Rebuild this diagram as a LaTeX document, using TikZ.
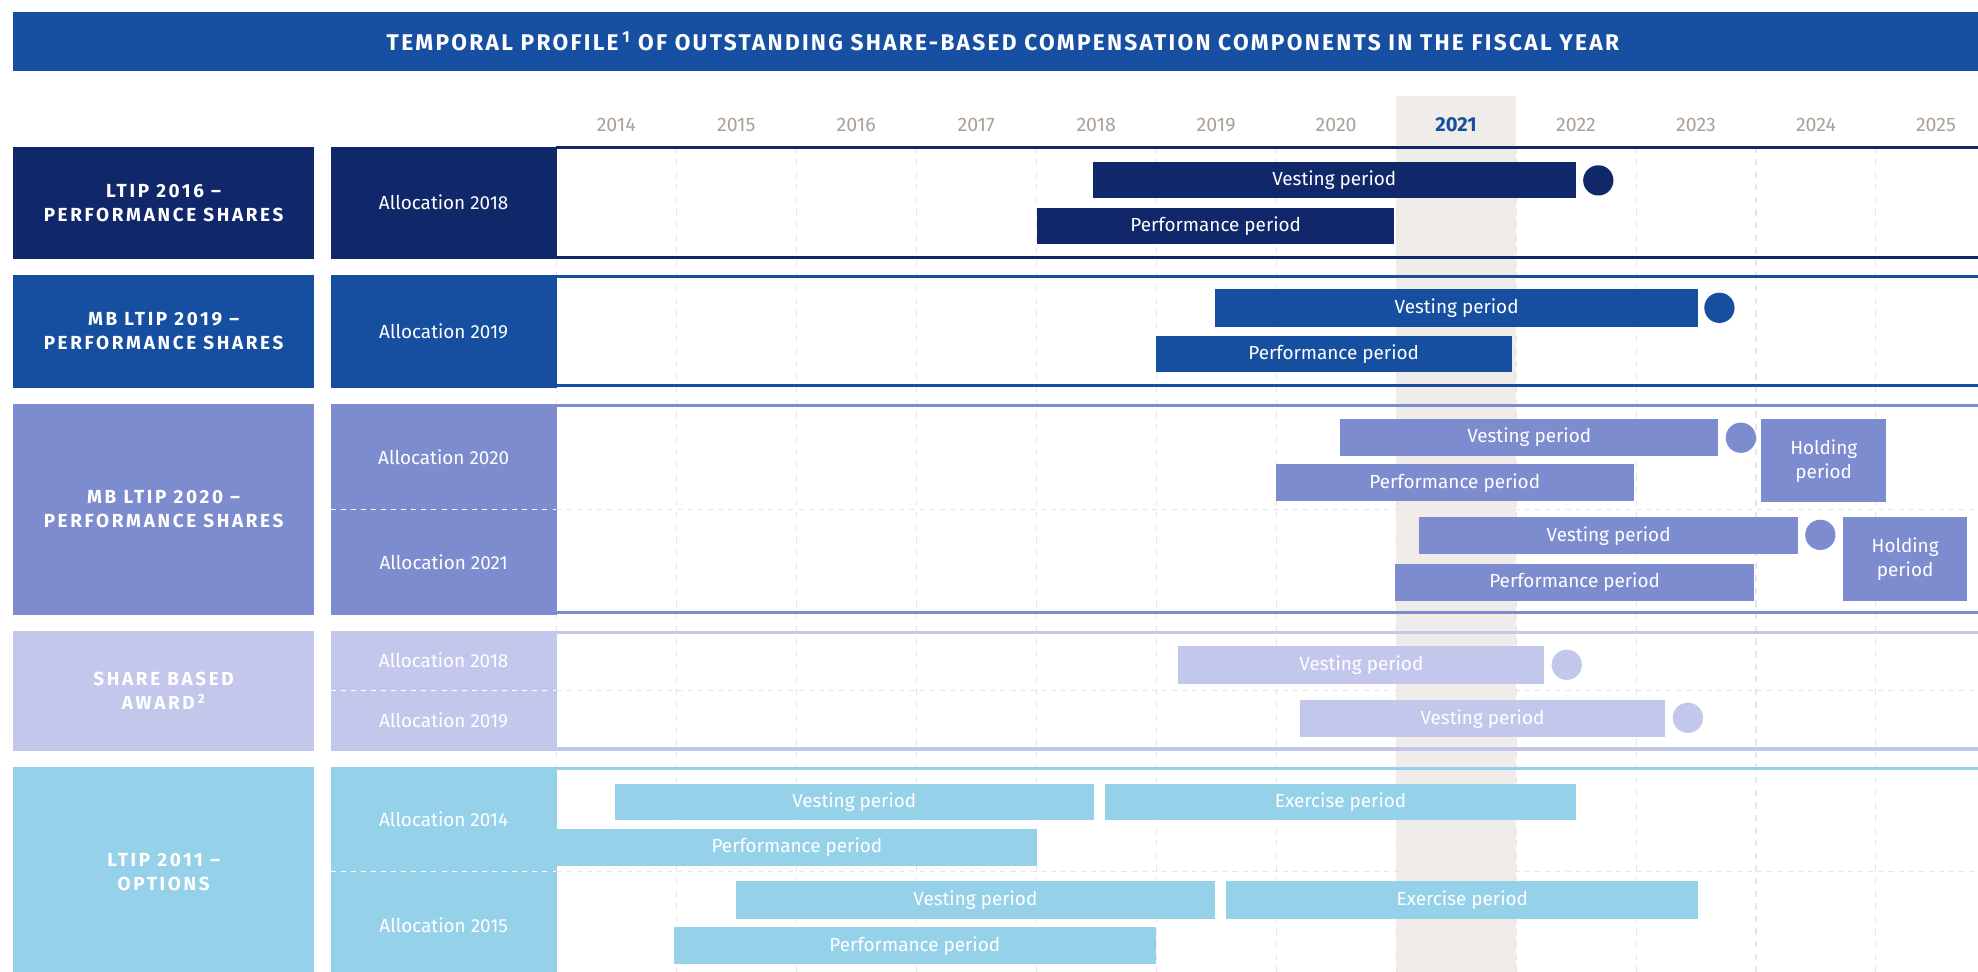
\documentclass[tikz,border=0pt]{standalone}
\usepackage{fontspec}
\setmainfont{Fira Sans}
\newfontfamily\capsfont[LetterSpace=14]{Fira Sans}
\newfontfamily\titlefont[LetterSpace=10]{Fira Sans}
\definecolor{titleblue}{RGB}{23,80,162}
\definecolor{cnavy}{RGB}{16,40,106}
\definecolor{cblue}{RGB}{22,79,160}
\definecolor{cperi}{RGB}{124,140,207}
\definecolor{clav}{RGB}{195,199,236}
\definecolor{csky}{RGB}{150,209,234}
\definecolor{hilite}{RGB}{239,236,233}
\definecolor{yeargray}{RGB}{170,160,150}
\definecolor{gridgray}{RGB}{230,230,230}
\newcommand{\pbar}[7]{\node[barbox, fill=#6, minimum width={(#4-#2)*1pt}, minimum height={(#5-#3)*1pt}] (#1) at (#2,#3) {#7};}
\newcommand{\pdot}[4]{\node[dotmark, fill=#4] (#1) at (#2,#3) {};}
\begin{document}
\begin{tikzpicture}[x=1pt,y=-1pt,
  barbox/.style={draw=none, inner sep=0pt, anchor=north west, text=white, align=center, font=\fontsize{15}{19}\selectfont},
  dotmark/.style={circle, draw=none, inner sep=0pt, minimum size=24pt},
  grpbox/.style={draw=none, inner sep=0pt, anchor=north west, minimum width=239pt, text=white, align=center, font=\capsfont\bfseries\fontsize{15}{19}\selectfont},
  allocbox/.style={draw=none, inner sep=0pt, anchor=north west, minimum width=179pt, text=white, font=\fontsize{15}{18}\selectfont},
  yearlbl/.style={text=yeargray, font=\fontsize{15.5}{18}\selectfont, inner sep=0pt},
  gridline/.style={gridgray, line width=0.8pt, dash pattern=on 5pt off 5pt},
  rowsep/.style={gridgray, line width=0.8pt, dash pattern=on 4pt off 4pt},
  rowsepw/.style={white, line width=0.8pt, dash pattern=on 4pt off 4pt},
  grpline/.style={line width=2.5pt}
]
\useasboundingbox (0,0) rectangle (1568,770.5);
% title
\node[fill=titleblue, draw=none, anchor=north west, minimum width=1558pt, minimum height=47pt, inner sep=0pt] (titlebar) at (10,9) {};
\node[text=white, font=\titlefont\bfseries\fontsize{18}{22}\selectfont] (title) at (795,33) {TEMPORAL PROFILE\,\textsuperscript{1} OF OUTSTANDING SHARE-BASED COMPENSATION COMPONENTS IN THE FISCAL YEAR};
% highlight column
\fill[hilite] (1106.7,76) rectangle (1201.8,775);
% grid
\foreach \i in {0,...,11} \draw[gridline] ({441+\i*95.1},116) -- ({441+\i*95.1},775);
% year labels
\foreach \yr/\i in {2014/0,2015/1,2016/2,2017/3,2018/4,2019/5,2020/6,2022/8,2023/9,2024/10,2025/11}
  \node[yearlbl] (y\yr) at ({441+(\i+0.5)*95.1},99) {\yr};
\node[yearlbl, text=cblue, font=\bfseries\fontsize{16}{18}\selectfont] (y2021) at ({441+7.5*95.1},99) {2021};
% row separators (dashed)
\foreach \yy in {404,547,691} {
  \draw[rowsep] (441,\yy) -- (1568,\yy);
}
% ---------- group 1
\node[grpbox, fill=cnavy, minimum height=89pt] (g1) at (10,116) {LTIP 2016 –\\PERFORMANCE SHARES};
\node[allocbox, fill=cnavy, minimum height=89pt] (a1) at (262,116) {Allocation 2018};
\draw[grpline, cnavy] (441,117.2) -- (1568,117.2);
\draw[grpline, cnavy] (441,203.8) -- (1568,203.8);
\pbar{v1}{866}{128}{1249}{157}{cnavy}{Vesting period}
\pbar{p1}{822}{165}{1105}{193}{cnavy}{Performance period}
\pdot{d1}{1267}{143}{cnavy}
% ---------- group 2
\node[grpbox, fill=cblue, minimum height=89pt] (g2) at (10,218) {MB LTIP 2019 –\\PERFORMANCE SHARES};
\node[allocbox, fill=cblue, minimum height=89pt] (a2) at (262,218) {Allocation 2019};
\draw[grpline, cblue] (441,219.2) -- (1568,219.2);
\draw[grpline, cblue] (441,305.8) -- (1568,305.8);
\pbar{v2}{963}{229}{1346}{259}{cblue}{Vesting period}
\pbar{p2}{916}{266}{1198}{295}{cblue}{Performance period}
\pdot{d2}{1363}{244}{cblue}
% ---------- group 3
\node[grpbox, fill=cperi, minimum height=167pt] (g3) at (10,320) {MB LTIP 2020 –\\PERFORMANCE SHARES};
\node[allocbox, fill=cperi, minimum height=84pt] (a3a) at (262,320) {Allocation 2020};
\node[allocbox, fill=cperi, minimum height=83pt] (a3b) at (262,404) {Allocation 2021};
\draw[rowsepw] (262,404) -- (441,404);
\draw[grpline, cperi] (441,321.2) -- (1568,321.2);
\draw[grpline, cperi] (441,485.8) -- (1568,485.8);
\pbar{v3a}{1062}{332}{1362}{361}{cperi}{Vesting period}
\pbar{p3a}{1011}{368}{1295}{397}{cperi}{Performance period}
\pbar{h3a}{1396}{332}{1495}{398}{cperi}{Holding\\period}
\pdot{d3a}{1380}{347}{cperi}
\pbar{v3b}{1125}{410}{1425}{439}{cperi}{Vesting period}
\pbar{p3b}{1106}{447}{1390}{476}{cperi}{Performance period}
\pbar{h3b}{1461}{410}{1559}{476}{cperi}{Holding\\period}
\pdot{d3b}{1443}{424}{cperi}
% ---------- group 4
\node[grpbox, fill=clav, minimum height=95pt] (g4) at (10,500) {SHARE BASED\\AWARD\,\textsuperscript{2}};
\node[allocbox, fill=clav, minimum height=47pt] (a4a) at (262,500) {Allocation 2018};
\node[allocbox, fill=clav, minimum height=48pt] (a4b) at (262,547) {Allocation 2019};
\draw[rowsepw] (262,547) -- (441,547);
\draw[grpline, clav] (441,501.2) -- (1568,501.2);
\draw[grpline, clav] (441,593.8) -- (1568,593.8);
\pbar{v4a}{934}{512}{1224}{542}{clav}{Vesting period}
\pdot{d4a}{1242}{527}{clav}
\pbar{v4b}{1030}{555}{1320}{584}{clav}{Vesting period}
\pdot{d4b}{1338}{569}{clav}
% ---------- group 5
\node[grpbox, fill=csky, minimum height=167pt] (g5) at (10,608) {LTIP 2011 –\\OPTIONS};
\node[allocbox, fill=csky, minimum height=83pt] (a5a) at (262,608) {Allocation 2014};
\node[allocbox, fill=csky, minimum height=84pt] (a5b) at (262,691) {Allocation 2015};
\draw[rowsepw] (262,691) -- (441,691);
\draw[grpline, csky] (441,609.2) -- (1568,609.2);
\pbar{v5a}{487}{621}{867}{650}{csky}{Vesting period}
\pbar{e5a}{876}{621}{1249}{650}{csky}{Exercise period}
\pbar{p5a}{441}{657}{822}{686}{csky}{Performance period}
\pbar{v5b}{583}{698}{963}{728}{csky}{Vesting period}
\pbar{e5b}{972}{698}{1346}{728}{csky}{Exercise period}
\pbar{p5b}{534}{735}{916}{764}{csky}{Performance period}
\end{tikzpicture}
\end{document}
